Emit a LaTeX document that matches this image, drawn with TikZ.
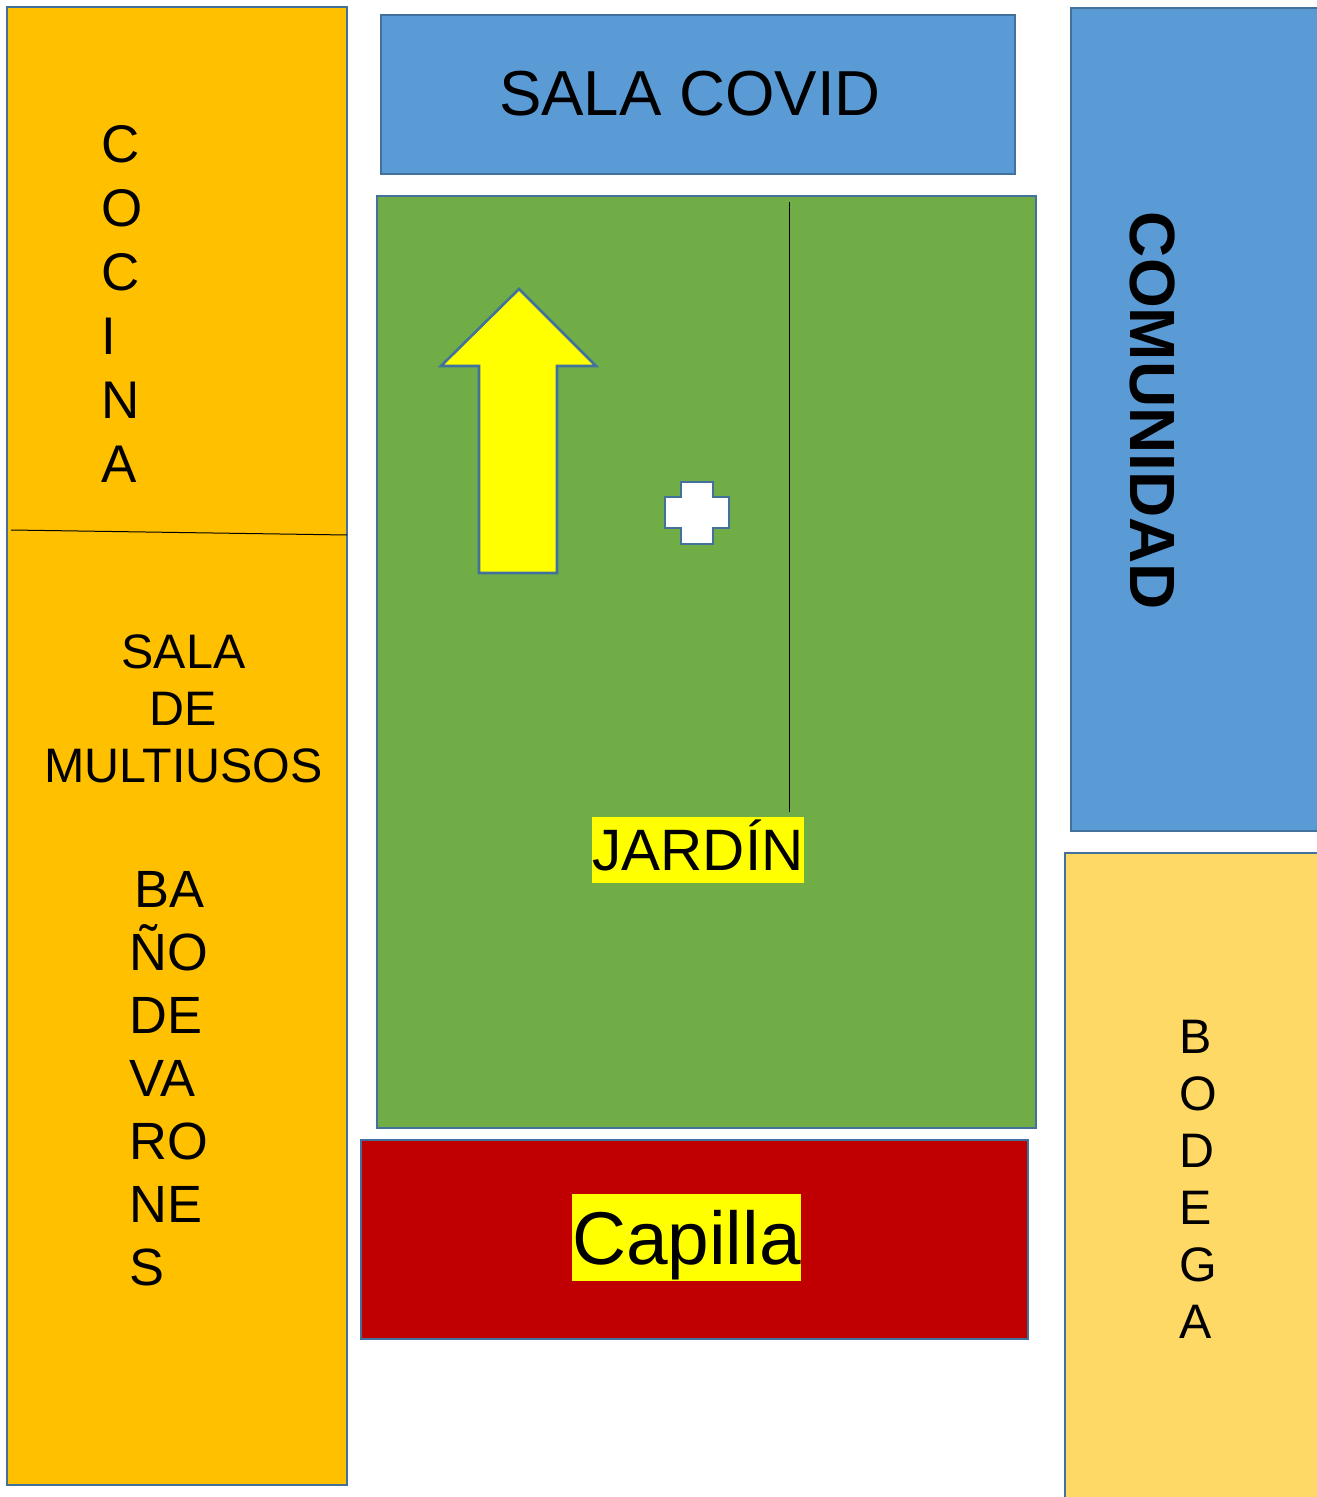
\documentclass[tikz,border=0pt]{standalone}
\usepackage{fontspec}
\setmainfont{Liberation Sans}
\usetikzlibrary{positioning}
\definecolor{edgeblue}{HTML}{41719C}
\definecolor{roomorange}{HTML}{FFC000}
\definecolor{roomblue}{HTML}{5B9BD5}
\definecolor{roomgreen}{HTML}{70AD47}
\definecolor{roomred}{HTML}{C00000}
\definecolor{roomsand}{HTML}{FFD966}
\definecolor{markyellow}{HTML}{FFFF00}
\tikzset{
        % Rooms of the plan
        room/.style={draw=edgeblue, line width=1.3pt},
        room_text/.style={inner sep=0pt, text=black, align=left},
        % Marked labels
        mark_text/.style={inner sep=0pt, fill=markyellow, text=black}
}
% sizes in reference pixels (1px = 0.5pt)
\newcommand{\txt}[2]{\fontsize{#1}{#2}\selectfont}
\begin{document}
\begin{tikzpicture}[x=0.5pt,y=-0.5pt]
    \useasboundingbox (0,0) rectangle (1316,1497);
    % rooms
    \draw[room, fill=roomorange] (7,7) rectangle (347,1485);
    \draw[room, fill=roomblue] (381,15) rectangle (1015,174);
    \draw[room, fill=roomblue] (1071,8) rectangle (1330,831);
    \draw[room, fill=roomgreen] (377,196) rectangle (1036,1128);
    \draw[room, fill=roomred] (361,1140) rectangle (1028,1339);
    \draw[room, fill=roomsand] (1065,853) rectangle (1330,1510);
    % inner lines
    \coordinate (cut_l) at (11,530);
    \coordinate (cut_r) at (347,535);
    \draw[black, line width=0.5pt] (cut_l) -- (cut_r);
    \coordinate (wall_t) at (789,202);
    \coordinate (wall_b) at (789,812);
    \draw[black, line width=0.5pt] (wall_t) -- (wall_b);
    % arrow and cross
    \draw[room, fill=markyellow, line join=miter] (519,289) -- (596,366) -- (557,366) -- (557,573)
        -- (479,573) -- (479,366) -- (441,366) -- cycle;
    \draw[room, fill=white] (681,482) -- (713,482) -- (713,497) -- (729,497) -- (729,528)
        -- (713,528) -- (713,544) -- (681,544) -- (681,528) -- (665,528) -- (665,497)
        -- (681,497) -- cycle;
    % labels
    \node[room_text, font=\txt{31.8}{38}] (covid) at (690,93.5) {SALA COVID};
    \node[room_text, anchor=north west, font=\txt{26.5}{32}] (cocina) at (101,125) {C\\O\\C\\I\\N\\A};
    \node[room_text, align=center, font=\txt{24.2}{28.5}] (multi) at (183.5,708.5) {SALA\\DE\\MULTIUSOS};
    \node[room_text, anchor=north west, font=\txt{26.2}{31.5}] (banos) at (129.5,871) {\hspace{2.5pt}BA\\ÑO\\DE\\VA\\RO\\NE\\S};
    \node[mark_text, text height=26.5pt, text depth=6.5pt, text width=106pt, align=center, font=\txt{29.2}{34}] (jardin) at (698,850) {JARDÍN};
    \node[mark_text, text height=35pt, text depth=8.5pt, text width=114.5pt, align=center, font=\txt{37.4}{44}] (capilla) at (686.5,1237.5) {Capilla};
    \node[room_text, rotate=-90, font=\bfseries\txt{32}{36}] (comunidad) at (1153,411) {COMUNIDAD};
    \node[room_text, anchor=north west, font=\txt{24.2}{28.5}] (bodega) at (1179.5,1020) {B\\O\\D\\E\\G\\A};
\end{tikzpicture}
\end{document}
